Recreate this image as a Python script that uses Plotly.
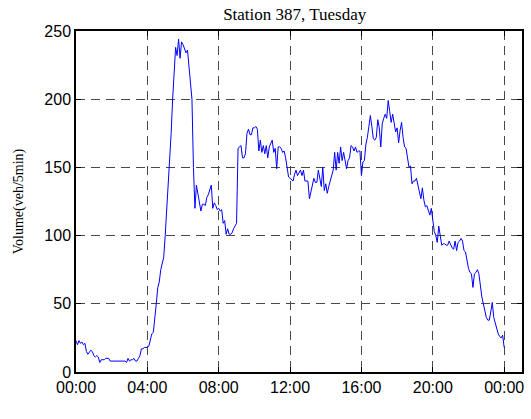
import plotly.graph_objects as go

# 5-minute volumes, one list per hour (12 samples each), plus the final 24:00 sample
h00 = [23, 20, 23, 21, 22, 20, 21, 15, 13, 15, 16, 15]
h01 = [12, 11, 12, 11, 7, 9, 9, 9, 10, 10, 10, 8]
h02 = [8, 8, 8, 8, 8, 8, 8, 8, 8, 8, 7, 10]
h03 = [8, 9, 9, 10, 8, 8, 10, 12, 17, 17, 18, 18]
h04 = [18, 19, 23, 28, 29, 38, 50, 62, 66, 75, 81, 84]
h05 = [100, 120, 135, 150, 175, 200, 225, 238, 232, 244, 230, 242]
h06 = [240, 236, 234, 236, 222, 212, 200, 150, 120, 137, 131, 124]
h07 = [118, 123, 123, 122, 128, 130, 134, 137, 120, 124, 122, 119]
h08 = [120, 118, 119, 109, 111, 101, 105, 101, 101, 102, 105, 107]
h09 = [109, 164, 165, 166, 157, 157, 160, 175, 178, 174, 174, 179]
h10 = [179, 180, 178, 162, 170, 161, 166, 160, 166, 157, 165, 168]
h11 = [170, 161, 164, 149, 165, 165, 164, 161, 162, 157, 148, 143]
h12 = [142, 141, 140, 145, 148, 144, 146, 148, 144, 148, 140, 140]
h13 = [140, 127, 133, 136, 142, 139, 139, 148, 140, 136, 150, 133]
h14 = [138, 131, 136, 140, 144, 148, 161, 148, 161, 153, 165, 155]
h15 = [161, 154, 149, 155, 157, 166, 165, 162, 165, 161, 162, 162]
h16 = [144, 154, 155, 167, 172, 180, 188, 180, 171, 170, 172, 185]
h17 = [179, 165, 182, 186, 189, 186, 199, 191, 183, 189, 182, 176]
h18 = [179, 168, 177, 183, 172, 165, 164, 158, 150, 151, 138, 140]
h19 = [140, 142, 138, 132, 127, 135, 126, 121, 122, 118, 115, 120]
h20 = [109, 103, 100, 95, 107, 98, 93, 94, 94, 93, 93, 96]
h21 = [93, 91, 90, 96, 89, 95, 96, 98, 96, 89, 88, 81]
h22 = [76, 73, 72, 62, 72, 73, 75, 72, 62, 55, 50, 45]
h23 = [40, 38, 38, 44, 51, 40, 36, 30, 28, 26, 25, 27]
h24 = [18]

volume = (h00 + h01 + h02 + h03 + h04 + h05 + h06 + h07 + h08 + h09 + h10 + h11 +
          h12 + h13 + h14 + h15 + h16 + h17 + h18 + h19 + h20 + h21 + h22 + h23 + h24)
hours = [i / 12 for i in range(len(volume))]

tick_hours = [0, 4, 8, 12, 16, 20, 24]
tick_labels = ["00:00", "04:00", "08:00", "12:00", "16:00", "20:00", "00:00"]
y_ticks = [0, 50, 100, 150, 200, 250]

fig = go.Figure()
fig.add_trace(go.Scatter(x=hours, y=volume, mode="lines",
                         line=dict(color="#0000ff", width=1)))

axis_common = dict(
    showline=True, linecolor="black", linewidth=1.5, mirror="ticks",
    ticks="inside", ticklen=5, tickcolor="black",
    showgrid=True, gridcolor="#484848", gridwidth=1, griddash="9px,6px",
    zeroline=False,
    tickfont=dict(family="Liberation Sans, Arial", size=16, color="black"),
)

fig.update_xaxes(range=[0, 25], tickvals=tick_hours, ticktext=tick_labels, **axis_common)
fig.update_yaxes(range=[0, 250], tickvals=y_ticks,
                 title=dict(text="Volume(veh/5min)", standoff=17,
                            font=dict(family="Liberation Serif, Times New Roman", size=14, color="black")),
                 **axis_common)

fig.update_layout(
    width=531, height=419,
    margin=dict(l=76, r=7, t=31, b=47),
    paper_bgcolor="white", plot_bgcolor="white",
    showlegend=False,
    title=dict(text="Station 387, Tuesday", x=0.555, xanchor="center", y=0.98, yanchor="top",
               font=dict(family="Liberation Serif, Times New Roman", size=17, color="black")),
)

fig.write_html("out.html")
